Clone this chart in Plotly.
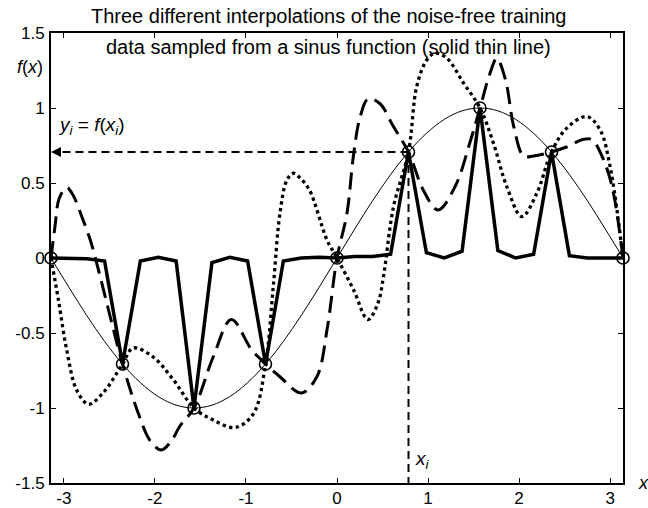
import plotly.graph_objects as go

# ---------------- data ----------------
# training inputs x_i and noise-free targets y_i = sin(x_i)
train_x = [-3.1416, -2.3562, -1.5708, -0.7854, 0.0, 0.7854, 1.5708, 2.3562, 3.1416]
train_y = [0.0, -0.707, -1.0, -0.707, 0.0, 0.707, 1.0, 0.707, 0.0]

# evaluation grid (33 points, -pi..pi)
grid_x = [-3.142, -2.945, -2.749, -2.553, -2.356, -2.160, -1.963, -1.767, -1.571,
          -1.374, -1.178, -0.982, -0.785, -0.589, -0.393, -0.196, 0.0,
          0.196, 0.393, 0.589, 0.785, 0.982, 1.178, 1.374, 1.571,
          1.767, 1.963, 2.160, 2.356, 2.553, 2.749, 2.945, 3.142]

# thin solid line: the sinus function
sinus_y = [0.0, -0.195, -0.383, -0.556, -0.707, -0.831, -0.924, -0.981, -1.0,
           -0.981, -0.924, -0.831, -0.707, -0.556, -0.383, -0.195, 0.0,
           0.195, 0.383, 0.556, 0.707, 0.831, 0.924, 0.981, 1.0,
           0.981, 0.924, 0.831, 0.707, 0.556, 0.383, 0.195, 0.0]

# thick solid line: very narrow basis functions
narrow_y = [0.0, 0.0, -0.005, -0.02, -0.707, -0.02, 0.005, -0.02, -1.0,
            -0.03, 0.005, -0.02, -0.707, -0.02, 0.0, 0.005, 0.0,
            0.01, 0.01, 0.025, 0.707, 0.035, 0.0, 0.045, 1.0,
            0.05, 0.0, 0.025, 0.707, 0.015, 0.0, 0.0, 0.0]

# dashed line: medium width basis functions
medium_x = [-3.1416, -3.10, -3.05, -2.97, -2.90, -2.80, -2.71, -2.62, -2.50, -2.356,
            -2.18, -2.05, -1.93, -1.82, -1.725, -1.571, -1.36, -1.16, -0.94, -0.785,
            -0.63, -0.39, -0.22, -0.11, 0.0, 0.11, 0.18, 0.25, 0.34, 0.47, 0.62,
            0.785, 0.95, 1.11, 1.30, 1.46, 1.571, 1.68, 1.755, 1.85, 1.94, 2.05,
            2.16, 2.356, 2.52, 2.70, 2.80, 2.91, 3.02, 3.1416]
medium_y = [0.0, 0.20, 0.40, 0.47, 0.42, 0.27, 0.12, -0.08, -0.37, -0.707,
            -1.04, -1.22, -1.28, -1.22, -1.12, -1.0, -0.66, -0.41, -0.61, -0.707,
            -0.79, -0.90, -0.79, -0.48, 0.0, 0.30, 0.68, 0.93, 1.06, 1.03, 0.876,
            0.707, 0.45, 0.32, 0.48, 0.77, 1.0, 1.23, 1.33, 1.19, 0.88, 0.68,
            0.68, 0.707, 0.74, 0.79, 0.79, 0.68, 0.48, 0.0]

# dotted line: wide basis functions
wide_x = [-3.1416, -3.06, -2.97, -2.86, -2.73, -2.57, -2.356, -2.24, -2.02, -1.80,
          -1.571, -1.36, -1.12, -0.92, -0.785, -0.70, -0.626, -0.55, -0.48, -0.40,
          -0.30, -0.11, 0.0, 0.18, 0.34, 0.45, 0.51, 0.62, 0.785, 0.876, 0.986,
          1.077, 1.205, 1.39, 1.571, 1.718, 1.865, 2.03, 2.194, 2.356, 2.524,
          2.744, 2.89, 3.0, 3.1416]
wide_y = [0.0, -0.28, -0.61, -0.88, -0.975, -0.90, -0.707, -0.60, -0.66, -0.81,
          -1.0, -1.08, -1.13, -1.04, -0.707, -0.19, 0.30, 0.52, 0.565, 0.53,
          0.45, 0.12, 0.0, -0.21, -0.41, -0.30, -0.125, 0.34, 0.707, 1.144, 1.32,
          1.366, 1.333, 1.166, 1.0, 0.766, 0.476, 0.276, 0.43, 0.707, 0.866,
          0.943, 0.854, 0.61, 0.0]

x_ticks = [-3, -2, -1, 0, 1, 2, 3]
x_tick_text = ["-3", "-2", "-1", "0", "1", "2", "3"]
y_ticks = [-1.5, -1, -0.5, 0, 0.5, 1, 1.5]
y_tick_text = ["-1.5", "-1", "-0.5", "0", "0.5", "1", "1.5"]

title_lines = ["Three different interpolations of the noise-free training",
               "data sampled from a sinus function (solid thin line)"]

FONT = "Liberation Sans, Arial, sans-serif"
x_range = [-3.1416, 3.1416]
y_range = [-1.5, 1.5]

fig = go.Figure()

fig.add_trace(go.Scatter(x=grid_x, y=sinus_y, mode="lines", line_shape="spline",
                         line=dict(color="black", width=1)))
fig.add_trace(go.Scatter(x=grid_x, y=narrow_y, mode="lines",
                         line=dict(color="black", width=3.5)))
fig.add_trace(go.Scatter(x=medium_x, y=medium_y, mode="lines", line_shape="spline",
                         line=dict(color="black", width=3, dash="17px,8px")))
fig.add_trace(go.Scatter(x=wide_x, y=wide_y, mode="lines", line_shape="spline",
                         line=dict(color="black", width=3.3, dash="3.3px,3.4px")))
fig.add_trace(go.Scatter(x=train_x, y=train_y, mode="markers", cliponaxis=False,
                         marker=dict(symbol="circle-open", size=12, color="black",
                                     line=dict(width=1.6, color="black"))))

# highlighted training point (x_i, y_i)
hx, hy = train_x[5], train_y[5]
fig.add_shape(type="line", x0=hx, y0=hy, x1=x_range[0] + 0.08, y1=hy,
              xref="x", yref="y", line=dict(color="black", width=2, dash="8px,5px"))
fig.add_shape(type="line", x0=hx, y0=hy, x1=hx, y1=y_range[0],
              xref="x", yref="y", line=dict(color="black", width=2, dash="8px,5px"))
fig.add_annotation(x=x_range[0], y=hy, ax=x_range[0] + 0.12, ay=hy,
                   xref="x", yref="y", axref="x", ayref="y", text="",
                   showarrow=True, arrowhead=2, arrowsize=1, arrowwidth=2,
                   arrowcolor="black")

fig.add_annotation(x=x_range[0] + 0.06, y=hy + 0.08, xref="x", yref="y",
                   text="<i>y<sub>i</sub></i> = <i>f</i>(<i>x<sub>i</sub></i>)",
                   showarrow=False, xanchor="left", yanchor="bottom",
                   font=dict(family=FONT, size=19, color="black"))
fig.add_annotation(x=hx + 0.05, y=y_range[0] + 0.06, xref="x", yref="y",
                   text="<i>x<sub>i</sub></i>", showarrow=False,
                   xanchor="left", yanchor="bottom",
                   font=dict(family=FONT, size=19, color="black"))
fig.add_annotation(x=-0.01, y=1.275, xref="paper", yref="y",
                   text="<i>f</i>(<i>x</i>)", showarrow=False, xanchor="right",
                   yanchor="middle", font=dict(family=FONT, size=18, color="black"))
fig.add_annotation(x=1.022, y=y_range[0], xref="paper", yref="y",
                   text="<i>x</i>", showarrow=False, xanchor="left",
                   yanchor="middle", font=dict(family=FONT, size=18, color="black"))

# two-line title
fig.add_annotation(x=0.485, y=1.0, xref="paper", yref="paper", yanchor="bottom",
                   yshift=4, text=title_lines[0], showarrow=False,
                   font=dict(family=FONT, size=20, color="black"))
fig.add_annotation(x=0.485, y=1.0, xref="paper", yref="paper", yanchor="top",
                   yshift=-1, text=title_lines[1], showarrow=False,
                   font=dict(family=FONT, size=20, color="black"))

axis_common = dict(showgrid=False, zeroline=False, showline=True, linecolor="black",
                   linewidth=2, mirror="ticks", ticks="inside", ticklen=5,
                   tickwidth=1, tickcolor="black",
                   tickfont=dict(family=FONT, size=17, color="black"))

fig.update_xaxes(range=x_range, tickvals=x_ticks, ticktext=x_tick_text,
                 ticklabelstandoff=-1, **axis_common)
fig.update_yaxes(range=y_range, tickvals=y_ticks, ticktext=y_tick_text,
                 ticklabelstandoff=1, **axis_common)

fig.update_layout(width=648, height=508, showlegend=False,
                  paper_bgcolor="white", plot_bgcolor="white",
                  margin=dict(l=51, r=25, t=33, b=25, autoexpand=False))

fig.write_html("out.html")
